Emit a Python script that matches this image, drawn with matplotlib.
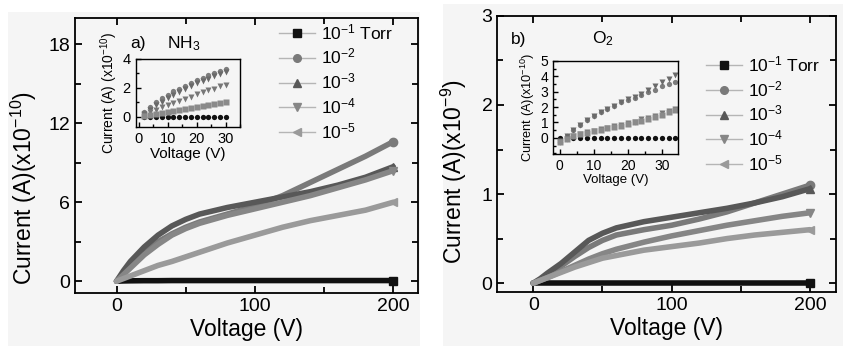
import matplotlib
matplotlib.use("Agg")
import matplotlib.pyplot as plt
from matplotlib.lines import Line2D
from matplotlib.patches import Rectangle
from matplotlib.ticker import MultipleLocator

plt.rcParams['font.family'] = ['Liberation Sans', 'DejaVu Sans']
plt.rcParams['mathtext.fontset'] = 'custom'
plt.rcParams['mathtext.rm'] = 'Liberation Sans'
plt.rcParams['mathtext.it'] = 'Liberation Sans'

# pressure labels and series styles
pressures = ["10$^{-1}$ Torr", "10$^{-2}$", "10$^{-3}$", "10$^{-4}$", "10$^{-5}$"]
markers = ["s", "o", "^", "v", "<"]
colors = ["#111111", "#7a7a7a", "#585858", "#868686", "#9a9a9a"]

# main panels: voltage (V)
v_main = [0, 5, 10, 20, 30, 40, 50, 60, 80, 100, 120, 140, 160, 180, 200]

# a) NH3, current in 1e-10 A
nh3_1 = [0, 0.02, 0.03, 0.04, 0.04, 0.05, 0.05, 0.05, 0.05, 0.05, 0.05, 0.05, 0.05, 0.05, 0.05]
nh3_2 = [0, 0.6, 1.2, 2.2, 3.0, 3.6, 4.1, 4.5, 5.1, 5.7, 6.5, 7.5, 8.5, 9.5, 10.6]
nh3_3 = [0, 0.8, 1.5, 2.6, 3.5, 4.2, 4.7, 5.1, 5.6, 6.0, 6.4, 6.8, 7.3, 7.9, 8.7]
nh3_4 = [0, 0.5, 1.0, 2.0, 2.8, 3.5, 4.0, 4.4, 5.0, 5.5, 6.0, 6.5, 7.1, 7.7, 8.4]
nh3_5 = [0, 0.2, 0.4, 0.8, 1.2, 1.5, 1.85, 2.2, 2.9, 3.5, 4.1, 4.6, 5.0, 5.4, 6.0]

# b) O2, current in 1e-9 A
o2_1 = [0, 0.0, 0.0, 0.0, 0.0, 0.0, 0.0, 0.0, 0.0, 0.0, 0.0, 0.0, 0.0, 0.0, 0.0]
o2_2 = [0, 0.04, 0.09, 0.19, 0.30, 0.40, 0.48, 0.54, 0.60, 0.65, 0.72, 0.80, 0.90, 1.00, 1.10]
o2_3 = [0, 0.05, 0.11, 0.22, 0.35, 0.48, 0.56, 0.62, 0.69, 0.74, 0.79, 0.84, 0.90, 0.97, 1.06]
o2_4 = [0, 0.03, 0.06, 0.13, 0.20, 0.27, 0.33, 0.38, 0.46, 0.53, 0.59, 0.65, 0.70, 0.75, 0.79]
o2_5 = [0, 0.03, 0.06, 0.12, 0.18, 0.23, 0.28, 0.31, 0.37, 0.41, 0.45, 0.50, 0.54, 0.57, 0.60]

# inset a): low voltage, current in 1e-10 A
v_in_a = [2, 4, 6, 8, 10, 12, 14, 16, 18, 20, 22, 24, 26, 28, 30]
ina_1 = [0, 0, 0, 0, 0, 0, 0, 0, 0, 0, 0, 0, 0, 0, 0]
ina_2 = [0.35, 0.7, 1.0, 1.3, 1.5, 1.75, 1.95, 2.15, 2.35, 2.55, 2.7, 2.85, 3.0, 3.15, 3.3]
ina_3 = [0.2, 0.5, 0.8, 1.05, 1.3, 1.5, 1.7, 1.9, 2.1, 2.3, 2.45, 2.6, 2.8, 2.95, 3.1]
ina_4 = [0.1, 0.3, 0.5, 0.65, 0.8, 0.95, 1.1, 1.25, 1.4, 1.55, 1.7, 1.85, 1.95, 2.1, 2.2]
ina_5 = [0.05, 0.12, 0.2, 0.27, 0.35, 0.42, 0.5, 0.57, 0.63, 0.7, 0.77, 0.83, 0.9, 0.95, 1.0]

# inset b): low voltage, current in 1e-10 A
v_in_b = [0, 2, 4, 6, 8, 10, 12, 14, 16, 18, 20, 22, 24, 26, 28, 30, 32, 34]
inb_1 = [0, 0, 0, 0, 0, 0, 0, 0, 0, 0, 0, 0, 0, 0, 0, 0, 0, 0]
inb_2 = [-0.3, 0.1, 0.5, 0.85, 1.15, 1.45, 1.7, 1.9, 2.1, 2.3, 2.45, 2.6, 2.8, 2.95, 3.1, 3.35, 3.5, 3.65]
inb_3 = [-0.3, 0.1, 0.5, 0.85, 1.15, 1.45, 1.7, 1.9, 2.1, 2.3, 2.5, 2.65, 2.85, 3.1, 3.35, 3.6, 3.85, 4.1]
inb_4 = [-0.2, -0.05, 0.1, 0.25, 0.35, 0.45, 0.55, 0.65, 0.75, 0.85, 0.95, 1.05, 1.2, 1.3, 1.45, 1.6, 1.75, 1.9]
inb_5 = [-0.25, -0.05, 0.1, 0.22, 0.32, 0.42, 0.52, 0.62, 0.72, 0.8, 0.9, 1.0, 1.1, 1.25, 1.35, 1.5, 1.65, 1.8]

nh3 = [nh3_1, nh3_2, nh3_3, nh3_4, nh3_5]
o2 = [o2_1, o2_2, o2_3, o2_4, o2_5]
ina = [ina_1, ina_2, ina_3, ina_4, ina_5]
inb = [inb_1, inb_2, inb_3, inb_4, inb_5]
inset_markers = ["o", "o", "v", "v", "s"]
inset_colors = ["#111111", "#7c7c7c", "#6a6a6a", "#777777", "#8a8a8a"]

fig = plt.figure(figsize=(8.43, 3.46), dpi=100, facecolor="white")
# light gray backgrounds of the two scanned panels
fig.add_artist(Rectangle((8 / 843, 0), 412 / 843, 1 - 12 / 346, transform=fig.transFigure,
                         facecolor="#f5f5f5", edgecolor="none", zorder=-10))
fig.add_artist(Rectangle((443 / 843, 0), 400 / 843, 1 - 4 / 346, transform=fig.transFigure,
                         facecolor="#f5f5f5", edgecolor="none", zorder=-10))


def style_axes(ax, xmaj, xmin, ymaj, ymin, size, lw=1.3):
    ax.set_facecolor("none")
    for s in ax.spines.values():
        s.set_linewidth(lw)
    ax.xaxis.set_major_locator(MultipleLocator(xmaj))
    ax.xaxis.set_minor_locator(MultipleLocator(xmin))
    ax.yaxis.set_major_locator(MultipleLocator(ymaj))
    ax.yaxis.set_minor_locator(MultipleLocator(ymin))
    ax.tick_params(which="both", direction="in", top=True, right=True, width=lw, labelsize=size)
    ax.tick_params(which="major", length=5)
    ax.tick_params(which="minor", length=4)


def draw_main(ax, data):
    for i in range(5):
        ax.plot(v_main, data[i], color=colors[i], lw=4.0, solid_capstyle="round",
                marker=markers[i], markevery=[-1], ms=6, zorder=3 if i else 2)


def draw_inset(ax, v, data):
    for i in range(5):
        ax.plot(v, data[i], ls="none", marker=inset_markers[i], ms=3.8,
                color=inset_colors[i], mec="none")


def add_legend(ax, anchor, hl):
    handles = [Line2D([0], [0], color="#b5b5b5", lw=1.0, marker=markers[i], ms=5.5,
                      mfc=colors[i], mec=colors[i]) for i in range(5)]
    ax.legend(handles, pressures, loc="upper left", bbox_to_anchor=anchor, frameon=False,
              fontsize=12.5, handlelength=hl, handletextpad=0.3, labelspacing=0.28,
              borderaxespad=0)


# ---- panel a) NH3 ----
ax1 = fig.add_axes([0.089, 0.153, 0.407, 0.795])
draw_main(ax1, nh3)
ax1.set_xlim(-30, 218)
ax1.set_ylim(-0.9, 20)
style_axes(ax1, 100, 50, 6, 3, 14)
ax1.set_xlabel("Voltage (V)", fontsize=16.5, labelpad=2)
ax1.set_ylabel("Current (A)(x10$^{-10}$)", fontsize=16.5)
ax1.yaxis.set_label_coords(-0.104, 0.38)
ax1.text(0.16, 0.89, "a)", transform=ax1.transAxes, fontsize=12.5)
ax1.text(0.268, 0.89, "NH$_3$", transform=ax1.transAxes, fontsize=12.5)
add_legend(ax1, (0.574, 1.01), 2.1)

ins1 = fig.add_axes([0.161, 0.633, 0.124, 0.197])
draw_inset(ins1, v_in_a, ina)
ins1.set_xlim(-1, 35)
ins1.set_ylim(-0.7, 4)
style_axes(ins1, 10, 5, 2, 1, 10.5, lw=1.0)
ins1.tick_params(which="major", length=3.5, top=False, right=False)
ins1.tick_params(which="minor", length=2.5, top=False, right=False)
ins1.set_xlabel("Voltage (V)", fontsize=11, labelpad=1)
ins1.set_ylabel("Current (A) (x10$^{-10}$)", fontsize=10, labelpad=2)

# ---- panel b) O2 ----
ax2 = fig.add_axes([0.590, 0.156, 0.402, 0.798])
draw_main(ax2, o2)
ax2.set_xlim(-26, 219)
ax2.set_ylim(-0.1, 3)
style_axes(ax2, 100, 50, 1, 0.5, 14)
ax2.set_xlabel("Voltage (V)", fontsize=16.5, labelpad=2)
ax2.set_ylabel("Current (A)(x10$^{-9}$)", fontsize=16.5)
ax2.yaxis.set_label_coords(-0.084, 0.435)
ax2.text(0.04, 0.9, "b)", transform=ax2.transAxes, fontsize=12.5)
ax2.text(0.28, 0.9, "O$_2$", transform=ax2.transAxes, fontsize=12.5)
add_legend(ax2, (0.595, 0.886), 2.1)

ins2 = fig.add_axes([0.656, 0.555, 0.148, 0.269])
draw_inset(ins2, v_in_b, inb)
ins2.set_xlim(-2, 34.7)
ins2.set_ylim(-1.05, 5)
style_axes(ins2, 10, 5, 1, 0.5, 10, lw=1.0)
ins2.set_yticks([0, 1, 2, 3, 4, 5])
ins2.tick_params(which="major", length=3.5, top=False, right=False)
ins2.tick_params(which="minor", length=2.5, top=False, right=False)
ins2.set_xlabel("Voltage (V)", fontsize=9.5, labelpad=1)
ins2.set_ylabel("Current (A)(x10$^{-10}$)", fontsize=9.2, labelpad=2)

fig.savefig("out.png", dpi=100, facecolor=fig.get_facecolor())
